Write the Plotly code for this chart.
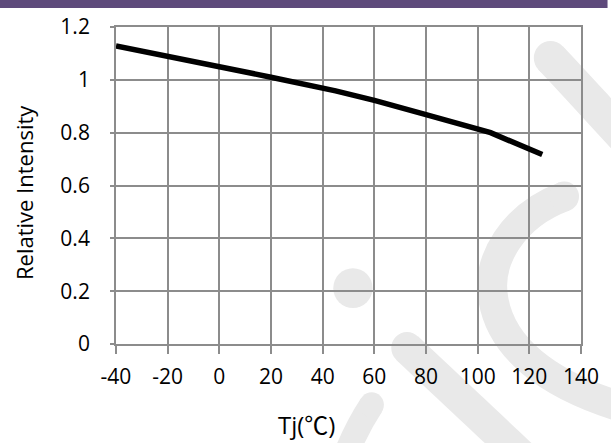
import plotly.graph_objects as go

# Junction temperature vs. relative luminous intensity
temp_c = [-40, -20, 0, 20, 45, 60, 80, 105, 125]
rel_intensity = [1.128, 1.09, 1.05, 1.01, 0.958, 0.922, 0.868, 0.80, 0.717]

x_ticks = [-40, -20, 0, 20, 40, 60, 80, 100, 120, 140]
x_tick_text = ["-40", "-20", "0", "20", "40", "60", "80", "100", "120", "140"]
y_ticks = [0, 0.2, 0.4, 0.6, 0.8, 1.0, 1.2]
y_tick_text = ["0", "0.2", "0.4", "0.6", "0.8", "1", "1.2"]

FIG_W, FIG_H = 611, 443
M_L, M_R, M_T, M_B = 116, 22, 26, 99
PLOT_W = FIG_W - M_L - M_R
PLOT_H = FIG_H - M_T - M_B

FONT = "Open Sans, Noto Sans CJK SC"
GRID = "#8c8c8c"
MARK = "#e9e9e9"


def px(x):
    return (x - M_L) / PLOT_W


def py(y):
    return (FIG_H - M_B - y) / PLOT_H


def band(points, width):
    """Thick stroked path through pixel points (M, then cubic segments)."""
    (x0, y0) = points[0]
    d = f"M {px(x0)},{py(y0)}"
    rest = points[1:]
    for i in range(0, len(rest), 3):
        c1, c2, e = rest[i:i + 3]
        d += f" C {px(c1[0])},{py(c1[1])} {px(c2[0])},{py(c2[1])} {px(e[0])},{py(e[1])}"
    return dict(type="path", xref="paper", yref="paper", path=d,
                line=dict(color=MARK, width=width), layer="below")


def dot(cx, cy, r):
    return dict(type="circle", xref="paper", yref="paper",
                x0=px(cx - r), x1=px(cx + r), y0=py(cy + r), y1=py(cy - r),
                fillcolor=MARK, line=dict(width=0), layer="below")


shapes = [
    # header strip
    dict(type="rect", xref="paper", yref="paper", x0=px(-5), x1=px(FIG_W + 5),
         y0=py(7), y1=py(-5), fillcolor="#5e4a7b", line=dict(width=0), layer="above"),
    # background logo strokes
    band([(558, 57), (585, 85), (612, 115), (650, 155)], 34), dot(558, 57, 17),
    band([(572, 196), (520, 215), (492, 260), (500, 300),
          (508, 345), (550, 385), (640, 410)], 30), dot(572, 196, 15),
    dot(357, 288, 20),
    band([(412, 348), (450, 383), (490, 420), (535, 462)], 32), dot(412, 348, 16),
    band([(376, 405), (366, 420), (357, 436), (348, 460)], 25), dot(376, 405, 12.5),
]

fig = go.Figure()
fig.add_trace(go.Scatter(
    x=temp_c, y=rel_intensity, mode="lines",
    line=dict(color="black", width=5.5), showlegend=False, hoverinfo="skip",
))

axis_common = dict(
    showgrid=True, gridcolor=GRID, gridwidth=1.8,
    showline=True, linecolor=GRID, linewidth=1.8, mirror=True,
    ticks="outside", tickcolor=GRID, tickwidth=1.8,
    zeroline=False,
    tickfont=dict(family=FONT, size=21, color="black"),
)

fig.update_xaxes(range=[-40, 140], tickmode="array", tickvals=x_ticks,
                 ticktext=x_tick_text, ticklen=8, ticklabelstandoff=5, **axis_common)
fig.update_yaxes(range=[0, 1.2], tickmode="array", tickvals=y_ticks,
                 ticktext=y_tick_text, ticklen=4, ticklabelstandoff=16, **axis_common)

fig.add_annotation(text="Tj(℃)", xref="paper", yref="paper", x=px(310), y=py(425),
                   showarrow=False, font=dict(family=FONT, size=24, color="black"),
                   xanchor="center", yanchor="middle")
fig.add_annotation(text="Relative Intensity", xref="paper", yref="paper",
                   x=px(23), y=py(192), textangle=-90, showarrow=False,
                   font=dict(family=FONT, size=22, color="black"),
                   xanchor="center", yanchor="middle")

fig.update_layout(
    width=FIG_W, height=FIG_H,
    margin=dict(l=M_L, r=M_R, t=M_T, b=M_B),
    paper_bgcolor="white", plot_bgcolor="rgba(0,0,0,0)",
    shapes=shapes,
)

fig.write_html("out.html")
